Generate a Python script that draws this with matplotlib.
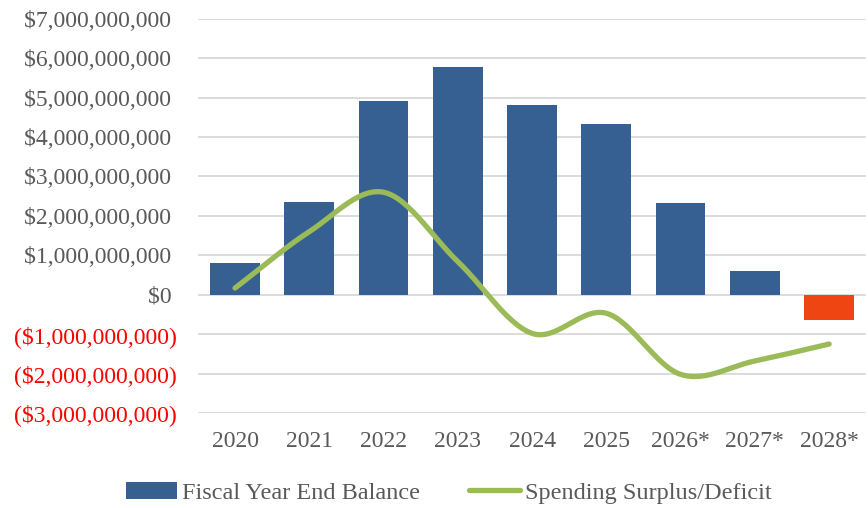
import numpy as np
import matplotlib
matplotlib.use("Agg")
import matplotlib.pyplot as plt
from matplotlib.ticker import FuncFormatter

plt.rcParams["font.family"] = ["Liberation Serif", "DejaVu Serif"]

# ---------------------------------------------------------------- data
years = ["2020", "2021", "2022", "2023", "2024", "2025", "2026*", "2027*", "2028*"]
balance = [0.80e9, 2.34e9, 4.91e9, 5.78e9, 4.81e9, 4.33e9, 2.32e9, 0.59e9, -0.63e9]
surplus = [0.17e9, 1.60e9, 2.60e9, 0.84e9, -0.98e9, -0.47e9, -2.02e9, -1.68e9, -1.25e9]

BLUE = "#376092"
RED = "#EE4513"
GREEN = "#9BBB59"
GREY = "#595959"


def smooth(xs, ys, n=30):
    # Catmull-Rom through the points (like Excel's "smoothed line")
    xs = np.asarray(xs, float)
    ys = np.asarray(ys, float)
    px = np.concatenate([[2 * xs[0] - xs[1]], xs, [2 * xs[-1] - xs[-2]]])
    py = np.concatenate([[2 * ys[0] - ys[1]], ys, [2 * ys[-1] - ys[-2]]])
    ox, oy = [], []
    for i in range(1, len(px) - 2):
        t = np.linspace(0, 1, n, endpoint=False)
        for p, o in ((px, ox), (py, oy)):
            p0, p1, p2, p3 = p[i - 1], p[i], p[i + 1], p[i + 2]
            o.extend(0.5 * (2 * p1 + (-p0 + p2) * t
                            + (2 * p0 - 5 * p1 + 4 * p2 - p3) * t ** 2
                            + (-p0 + 3 * p1 - 3 * p2 + p3) * t ** 3))
    ox.append(xs[-1])
    oy.append(ys[-1])
    return np.array(ox), np.array(oy)


fig = plt.figure(figsize=(8.68, 5.08), dpi=100)
ax = fig.add_axes([0.228, 0.187, 0.77, 0.776])

x = np.arange(len(years))
colors = [BLUE if v >= 0 else RED for v in balance]
ax.bar(x, balance, width=0.67, color=colors, zorder=3,
       label="Fiscal Year End Balance")
sx, sy = smooth(x, surplus)
ax.plot(sx, sy, color=GREEN, lw=3.8, solid_capstyle="round", zorder=4,
        label="Spending Surplus/Deficit")

ax.set_xlim(-0.5, len(years) - 0.5)
ax.set_ylim(-3e9, 7e9)
ax.set_yticks(np.arange(-3e9, 7.01e9, 1e9))


def money(v, pos):
    # accounting style: positives keep room for the closing paren
    if v < 0:
        return f"(${-v:,.0f})"
    return f"${v:,.0f} "


ax.yaxis.set_major_formatter(FuncFormatter(money))
ax.set_xticks(x)
ax.set_xticklabels(years)
ax.tick_params(axis="both", length=0, labelsize=17, labelcolor=GREY)
ax.tick_params(axis="x", pad=13)
ax.tick_params(axis="y", pad=15)
for lab, v in zip(ax.get_yticklabels(), ax.get_yticks()):
    if v < 0:
        lab.set_color("#FF0000")

ax.grid(axis="y", color="#D9D9D9", lw=1.3, zorder=0)
for s in ax.spines.values():
    s.set_visible(False)

h1, l1 = ax.get_legend_handles_labels()
fig.legend(h1[::-1], l1[::-1], loc="lower center", ncol=2, frameon=False,
           fontsize=17.5, labelcolor=GREY, bbox_to_anchor=(0.517, -0.035),
           handlelength=2.1, handletextpad=0.2, columnspacing=2.0)

fig.savefig("out.png", dpi=100)
